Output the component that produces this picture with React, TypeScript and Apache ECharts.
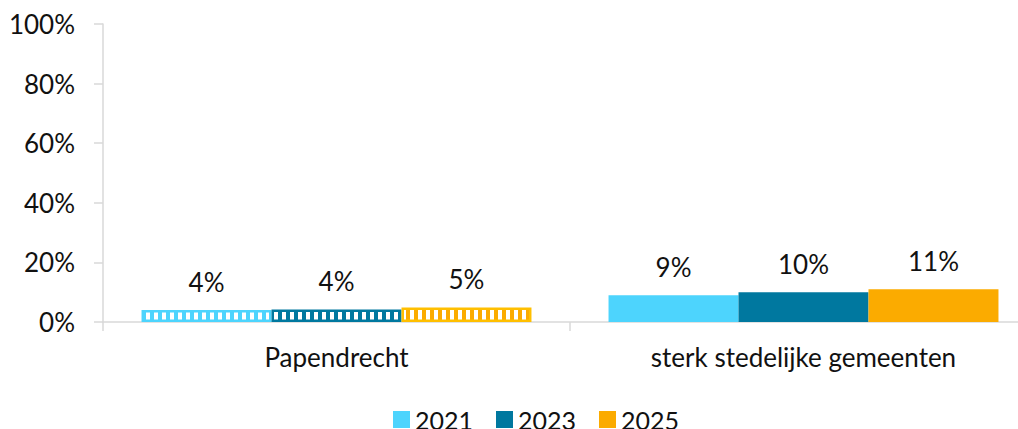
import React, { useEffect, useRef } from "react";
import * as echarts from "echarts";

const categories = ["Papendrecht", "sterk stedelijke gemeenten"];
const years = ["2021", "2023", "2025"];
const values2021 = [0.04, 0.09];
const values2023 = [0.042, 0.1];
const values2025 = [0.049, 0.11];
const yTicks = [0, 0.2, 0.4, 0.6, 0.8, 1];
const colors = ["#4dd4fd", "#00789f", "#fbab00"];
const patternBorder = ["#4dd4fd", "#00789f", "#ffbf00"];

const FONT = "Lato";

function stripePattern(c: string) {
  const svg = `<svg xmlns='http://www.w3.org/2000/svg' width='8' height='8'><rect width='8' height='8' fill='${c}'/><rect x='2' width='4' height='8' fill='#ffffff'/></svg>`;
  return {
    image: "data:image/svg+xml;charset=utf-8," + encodeURIComponent(svg),
    repeat: "repeat",
    imageWidth: 8,
    imageHeight: 8,
  };
}

export default function App() {
  const ref = useRef<HTMLDivElement>(null);
  useEffect(() => {
    if (!ref.current) return;
    const chart = echarts.init(ref.current, null, { renderer: "svg" });
    const all = [values2021, values2023, values2025];
    const series = years.map((y, i) => ({
      name: y,
      type: "bar",
      barGap: "0%",
      barCategoryGap: "16.5%",
      itemStyle: { color: colors[i] },
      label: {
        show: true,
        position: "top",
        distance: 15,
        fontFamily: FONT,
        fontSize: 26,
        color: "#111",
        formatter: (p: any) => Math.round(p.value * 100) + "%",
      },
      data: all[i].map((v, j) =>
        j === 0
          ? {
              value: v,
              itemStyle: {
                color: stripePattern(colors[i]),
                borderColor: patternBorder[i],
                borderWidth: 2.5,
              },
            }
          : { value: v }
      ),
    }));
    chart.setOption({
      animation: false,
      grid: { left: 103, width: 934, top: 24, height: 298, outerBoundsMode: "none", containLabel: false },
      legend: {
        data: years,
        left: 388,
        top: 402,
        icon: "rect",
        itemWidth: 17,
        itemHeight: 17,
        itemGap: 23,
        itemTextGap: 6,
        textStyle: { fontFamily: FONT, fontSize: 25, color: "#111" },
      },
      xAxis: {
        type: "category",
        data: categories,
        axisLine: { lineStyle: { color: "#d9d9d9", width: 1.5 } },
        axisTick: { show: true, length: 9, lineStyle: { color: "#d9d9d9", width: 1.5 } },
        axisLabel: { margin: 22, fontFamily: FONT, fontSize: 26, color: "#111" },
      },
      yAxis: {
        type: "value",
        min: 0,
        max: 1,
        interval: 0.2,
        splitLine: { show: false },
        axisLine: { show: true, lineStyle: { color: "#d9d9d9", width: 1.5 } },
        axisTick: { show: true, length: 9, lineStyle: { color: "#d9d9d9", width: 1.5 } },
        axisLabel: {
          margin: 28,
          fontFamily: FONT,
          fontSize: 26,
          color: "#111",
          formatter: (v: number) => (yTicks.includes(v) ? Math.round(v * 100) + "%" : ""),
        },
      },
      series,
    });
    return () => chart.dispose();
  }, []);
  return (
    <div
      ref={ref}
      style={{ position: "fixed", left: 0, top: 0, width: 1018, height: 429, background: "#fff" }}
    />
  );
}
